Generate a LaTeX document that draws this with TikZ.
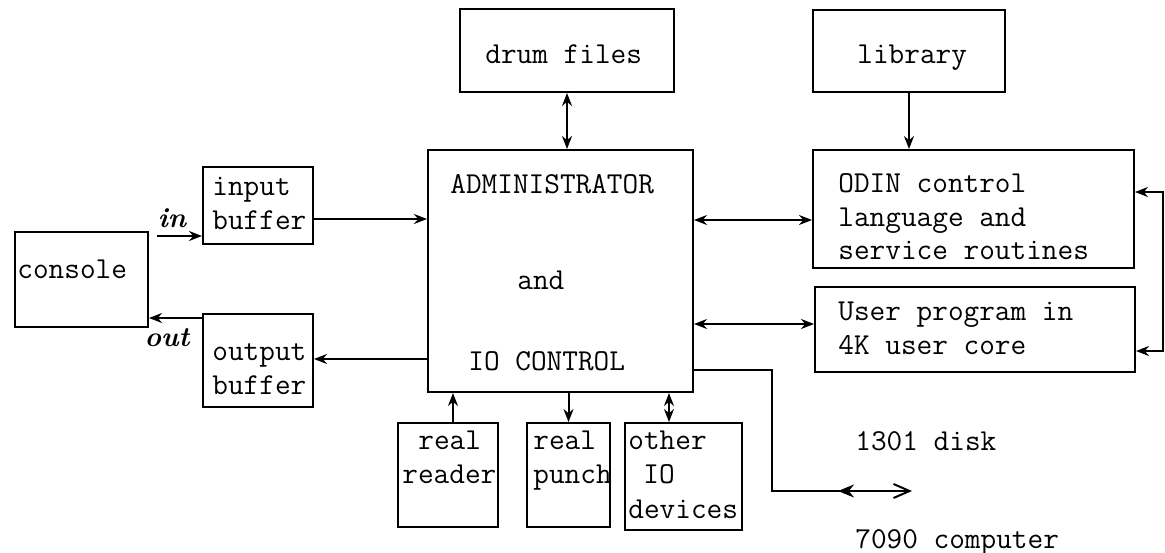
\documentclass[tikz,border=0pt]{standalone}
\usetikzlibrary{arrows.meta,fit}
\begin{document}
\begin{tikzpicture}[x=0.5pt,y=-0.5pt,
  box/.style={draw,line width=1pt,inner sep=0pt},
  txt/.style={anchor=base west,inner sep=0pt,font=\fontsize{15.2}{16}\selectfont\ttfamily},
  hand/.style={inner sep=0pt,font=\fontsize{14}{14}\selectfont\bfseries\itshape},
  conn/.style={line width=1pt},
  >={Stealth[length=6.5pt,width=5pt]}]
\useasboundingbox (0,0) rectangle (1165,552);

% boxes
\node[box,fit={(15,232)(148,327)}] (console) {};
\node[box,fit={(203,167)(313,244)}] (inbuf) {};
\node[box,fit={(203,314)(313,407)}] (outbuf) {};
\node[box,fit={(428,150)(693,392)}] (admin) {};
\node[box,fit={(460,9)(674,92)}] (drum) {};
\node[box,fit={(813,10)(1005,92)}] (lib) {};
\node[box,fit={(813,150)(1134,268)}] (odin) {};
\node[box,fit={(815,287)(1135,372)}] (user) {};
\node[box,fit={(398,423)(498,527)}] (reader) {};
\node[box,fit={(527,423)(610,527)}] (punch) {};
\node[box,fit={(625,423)(742,530)}] (other) {};

% texts
\node[txt] (tcons) at (17,278) {console};
\node[txt] (tin1) at (212,195) {input};
\node[txt] (tin2) at (212,229) {buffer};
\node[txt] (tout1) at (212,360) {output};
\node[txt] (tout2) at (212,394) {buffer};
\node[txt] (tdrum) at (485,63) {drum files};
\node[txt] (tlib) at (857,63) {library};
\node[txt] (tadm1) at (450,193) {ADMINISTRATOR};
\node[txt] (tadm2) at (517,289) {and};
\node[txt] (tadm3) at (468,370) {IO CONTROL};
\node[txt] (todin1) at (838,192) {ODIN control};
\node[txt] (todin2) at (838,226) {language and};
\node[txt] (todin3) at (838,259) {service routines};
\node[txt] (tuser1) at (838,320) {User program in};
\node[txt] (tuser2) at (838,354) {4K user core};
\node[txt] (trd1) at (418,449) {real};
\node[txt] (trd2) at (402,483) {reader};
\node[txt] (tpu1) at (533,449) {real};
\node[txt] (tpu2) at (533,483) {punch};
\node[txt] (tot1) at (628,449) {other};
\node[txt] (tot2) at (643,483) {IO};
\node[txt] (tot3) at (628,518) {devices};
\node[txt] (tdisk) at (855,450) {1301 disk};
\node[txt] (tcomp) at (855,548) {7090 computer};
\node[hand] (lin) at (172,218) {in};
\node[hand] (lout) at (167,338) {out};

% levels used by the connectors
\coordinate (inS) at (157,236);
\coordinate (outY) at (0,318);
\coordinate (yIn) at (0,219);
\coordinate (yOut) at (0,359);
\coordinate (yOdin) at (0,220);
\coordinate (yUser) at (0,324);
\coordinate (yDisk) at (0,370);
\coordinate (loopTop) at (1163,192);
\coordinate (loopBot) at (1163,351);
\coordinate (xR) at (453,0);
\coordinate (xO) at (669,0);
\coordinate (bend) at (772,491);
\coordinate (diskEnd) at (912,491);
\coordinate (diskMid) at (838,491);
\coordinate (diskMidR) at (852,491);

% connectors
\draw[conn,->] (inS) -- (inS -| inbuf.west);
\draw[conn,->] (outbuf.west |- outY) -- (console.east |- outY);
\draw[conn,->] (inbuf.east |- yIn) -- (admin.west |- yIn);
\draw[conn,->] (admin.west |- yOut) -- (outbuf.east |- yOut);
\draw[conn,<->] (drum.south) -- (drum.south |- admin.north);
\draw[conn,->] (lib.south) -- (lib.south |- odin.north);
\draw[conn,<->] (admin.east |- yOdin) -- (odin.west |- yOdin);
\draw[conn,<->] (admin.east |- yUser) -- (user.west |- yUser);
\draw[conn,<->] (odin.east |- loopTop) -- (loopTop) -- (loopBot) -- (user.east |- loopBot);
\draw[conn,->] (reader.north -| xR) -- (admin.south -| xR);
\draw[conn,->] (admin.south -| punch.north) -- (punch.north);
\draw[conn,<->] (admin.south -| xO) -- (other.north -| xO);
\draw[conn,-{Straight Barb[length=8pt,width=7pt]}] (admin.east |- yDisk) -- (bend |- yDisk) -- (bend) -- (diskEnd);
\draw[conn,-{Stealth[length=8pt,width=6.5pt]}] (diskMidR) -- (diskMid);
\end{tikzpicture}
\end{document}
